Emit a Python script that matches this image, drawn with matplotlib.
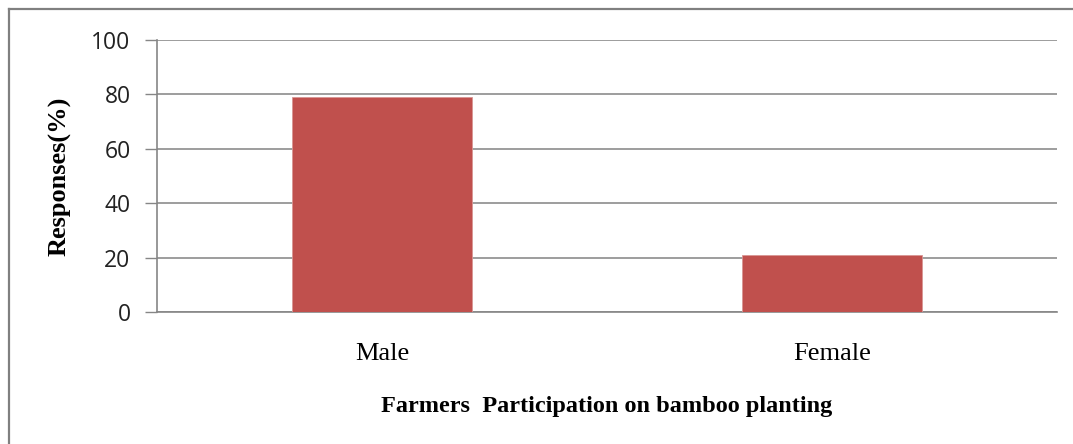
import matplotlib
matplotlib.use("Agg")
import matplotlib.pyplot as plt
from matplotlib.lines import Line2D

categories = ["Male", "Female"]
responses = [78.9, 21.1]
yticks = [0, 20, 40, 60, 80, 100]

fig = plt.figure(figsize=(10.73, 4.44), dpi=100)
ax = fig.add_axes([0.1463, 0.2973, 0.8387, 0.6126])

x = range(len(categories))
ax.bar(x, responses, width=0.4, color="#C0504D", edgecolor="#D99694", linewidth=0.6, zorder=3)
ax.set_xlim(-0.5, 1.5)
ax.set_ylim(0, 100)
ax.set_yticks(yticks)
ax.set_yticklabels([str(v) for v in yticks], fontsize=16.5, family="Open Sans", color="#222222")
ax.set_xticks(list(x))
ax.set_xticklabels(categories, fontsize=19, family="Liberation Serif")
ax.tick_params(axis="x", length=0, pad=22)
ax.tick_params(axis="y", length=9, width=1, color="#868686", pad=10)
ax.grid(axis="y", color="#8C8C8C", linewidth=1.2, zorder=0)
for s in ["top", "right"]:
    ax.spines[s].set_visible(False)
for s in ["left", "bottom"]:
    ax.spines[s].set_color("#868686")
    ax.spines[s].set_linewidth(1.2)

ax.set_ylabel("Responses(%)", fontsize=19, family="Liberation Serif", fontweight="bold", labelpad=14)
ax.set_xlabel("Farmers  Participation on bamboo planting", fontsize=17.5, family="Liberation Serif",
              fontweight="bold", labelpad=23)

# outer chart frame (left and top edges visible)
fig.add_artist(Line2D([8.5/1073, 8.5/1073], [0, 1 - 9/444], transform=fig.transFigure, color="#808080", linewidth=1.6))
fig.add_artist(Line2D([8.5/1073, 1], [1 - 9/444, 1 - 9/444], transform=fig.transFigure, color="#808080", linewidth=1.6))

fig.savefig("out.png", dpi=100, facecolor="white")
